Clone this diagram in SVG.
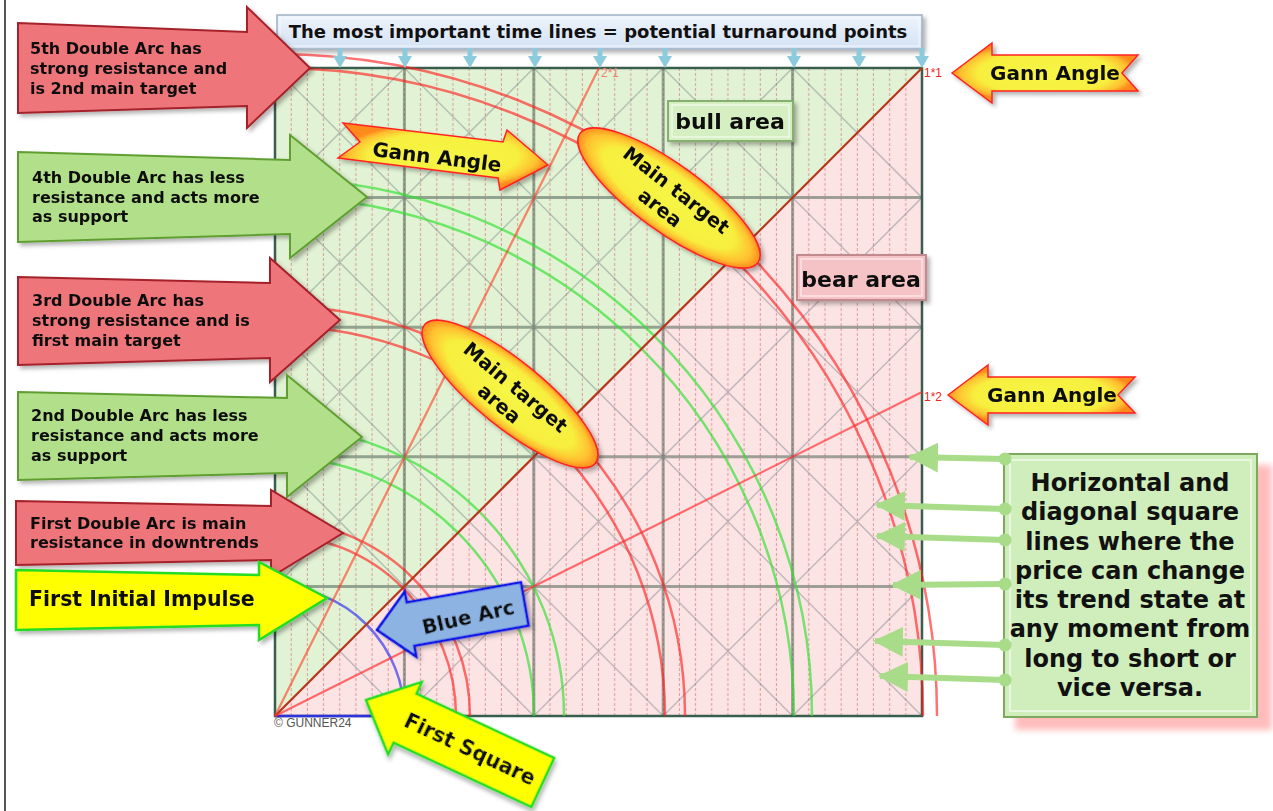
<svg xmlns="http://www.w3.org/2000/svg" width="1273" height="811" viewBox="0 0 1273 811">
<style>
.t{font-family:"DejaVu Sans",Verdana,sans-serif;font-weight:bold;fill:#111}
.small{font-family:"Liberation Sans",Arial,sans-serif}
.grid{stroke:rgba(80,100,85,0.55);stroke-width:3;fill:none}
.diag{stroke:rgba(110,120,130,0.4);stroke-width:1.5;fill:none}
.arcR{stroke:#ff1c1c;stroke-opacity:0.62;stroke-width:2.5;fill:none}
.arcG{stroke:#2ee02e;stroke-opacity:0.65;stroke-width:2.5;fill:none}
.redA{fill:#ee757a;stroke:#a5212a;stroke-width:2}
.grnA{fill:#b2e08a;stroke:#5f9f30;stroke-width:2}
.ylwA{fill:#ffff00;stroke:#22dd22;stroke-width:2.5}
.gann{fill:url(#glow);stroke:#ff2222;stroke-width:1.5}
.mark{fill:#8ccbdc}
.gline{stroke:#a8dc88;stroke-width:6;fill:none;marker-end:url(#gHead);marker-start:url(#gDot)}
</style>
<defs>
<radialGradient id="glow" cx="50%" cy="50%" r="50%">
<stop offset="0" stop-color="#f6f545"/>
<stop offset="0.72" stop-color="#f7ef3e"/>
<stop offset="0.9" stop-color="#ffc030"/>
<stop offset="1" stop-color="#ff8a1e"/>
</radialGradient>
<linearGradient id="titleG" x1="0" y1="0" x2="0" y2="1">
<stop offset="0" stop-color="#eef4fb"/>
<stop offset="1" stop-color="#d3e2f4"/>
</linearGradient>
<pattern id="dashes" patternUnits="userSpaceOnUse" x="267" y="68" width="16.175" height="5">
<rect x="7.5" y="0" width="1" height="3" fill="#d48a8a" fill-opacity="0.8"/>
</pattern>
<filter id="sh" x="-10%" y="-10%" width="130%" height="135%">
<feDropShadow dx="3" dy="3" stdDeviation="2" flood-color="#000" flood-opacity="0.3"/>
</filter>
<filter id="blur" x="-10%" y="-10%" width="120%" height="120%">
<feGaussianBlur stdDeviation="3"/>
</filter>
<marker id="gHead" viewBox="0 0 30 30" refX="28" refY="15" markerWidth="30" markerHeight="30" markerUnits="userSpaceOnUse" orient="auto">
<path d="M0,0 L30,15 L0,30 Z" fill="#a8dc88"/>
</marker>
<marker id="gDot" viewBox="0 0 14 14" refX="7" refY="7" markerWidth="14" markerHeight="14" markerUnits="userSpaceOnUse" orient="auto">
<circle cx="7" cy="7" r="6.5" fill="#a8dc88"/>
</marker>
</defs>

<rect width="1273" height="811" fill="#ffffff"/>
<line x1="5" y1="0" x2="5" y2="811" stroke="#555" stroke-width="2"/>

<g id="chart">
<polygon points="275,68 922,68 275,716" fill="#e2f2d4"/>
<polygon points="922,68 922,716 275,716" fill="#fce3e4"/>
<rect x="275" y="68" width="647" height="648" fill="url(#dashes)"/>
<path class="diag" d="M792.6,716 L922,586.4 M663.2,716 L922,456.8 M533.8,716 L922,327.2 M404.4,716 L922,197.6 M275,586.4 L792.6,68 M275,456.8 L663.2,68 M275,327.2 L533.8,68 M275,197.6 L404.4,68 M275,586.4 L404.4,716 M275,456.8 L533.8,716 M275,327.2 L663.2,716 M275,197.6 L792.6,716 M275,68 L922,716 M404.4,68 L922,586.4 M533.8,68 L922,456.8 M663.2,68 L922,327.2 M792.6,68 L922,197.6"/>
<path class="grid" d="M404.4,68 V716 M533.8,68 V716 M663.2,68 V716 M792.6,68 V716 M275,586.4 H922 M275,456.8 H922 M275,327.2 H922 M275,197.6 H922"/>
<rect x="275" y="68" width="647" height="648" fill="none" stroke="#3a5e4e" stroke-width="2.5"/>
<line x1="275" y1="716" x2="404" y2="716" stroke="#3030e0" stroke-width="2.5"/>
<text class="small" x="274" y="727" font-size="12" fill="#555">© GUNNER24</text>
</g>

<g id="arcs">
<path d="M275,586.6 A129.4,129.4 0 0 1 404.4,716" fill="none" stroke="#3a3af0" stroke-opacity="0.7" stroke-width="2.5"/>
<path class="arcR" d="M275,535 A181,181 0 0 1 456,716"/>
<path class="arcR" d="M275,521 A195,195 0 0 1 470,716"/>
<path class="arcG" d="M275,457 A259,259 0 0 1 534,716"/>
<path class="arcG" d="M275,427 A289,289 0 0 1 564,716"/>
<path class="arcR" d="M275,326 A390,390 0 0 1 665,716"/>
<path class="arcR" d="M275,306 A410,410 0 0 1 685,716"/>
<path class="arcG" d="M275,197 A519,519 0 0 1 794,716"/>
<path class="arcG" d="M275,179 A537,537 0 0 1 812,716"/>
<path class="arcR" d="M275,68 A648,648 0 0 1 923,716"/>
<path class="arcR" d="M275,54 A662,662 0 0 1 937,716" stroke-opacity="0.85"/>
</g>

<g id="gann-lines">
<line x1="275" y1="716" x2="922" y2="68" stroke="#b5361c" stroke-width="2.2"/>
<line x1="275" y1="716" x2="599" y2="68" stroke="#ff3a1f" stroke-opacity="0.6" stroke-width="2.2"/>
<line x1="275" y1="716" x2="922" y2="392" stroke="#ff2a2a" stroke-opacity="0.65" stroke-width="2.2"/>
<text class="small" x="924" y="77" font-size="12" fill="#ee2222">1*1</text>
<text class="small" x="601" y="77" font-size="12" fill="#f08070">2*1</text>
<text class="small" x="924" y="401" font-size="12" fill="#ee2222">1*2</text>
</g>

<g id="title">
<rect x="277" y="15" width="645" height="34" fill="url(#titleG)" stroke="#9fb0c4" stroke-width="1.5" filter="url(#sh)"/>
<rect x="280" y="18" width="639" height="28" fill="none" stroke="#ffffff" stroke-opacity="0.7" stroke-width="1"/>
<text class="t" x="598" y="38" font-size="18" text-anchor="middle" fill="#2a2a2a">The most important time lines = potential turnaround points</text>
<path class="mark" d="M337.5,48 h5 v8 h4.5 l-7,12 l-7,-12 h4.5 z"/>
<path class="mark" d="M402.5,48 h5 v8 h4.5 l-7,12 l-7,-12 h4.5 z"/>
<path class="mark" d="M467.5,48 h5 v8 h4.5 l-7,12 l-7,-12 h4.5 z"/>
<path class="mark" d="M532.5,48 h5 v8 h4.5 l-7,12 l-7,-12 h4.5 z"/>
<path class="mark" d="M597.5,48 h5 v8 h4.5 l-7,12 l-7,-12 h4.5 z"/>
<path class="mark" d="M662.5,48 h5 v8 h4.5 l-7,12 l-7,-12 h4.5 z"/>
<path class="mark" d="M791.5,48 h5 v8 h4.5 l-7,12 l-7,-12 h4.5 z"/>
<path class="mark" d="M856.5,48 h5 v8 h4.5 l-7,12 l-7,-12 h4.5 z"/>
<path class="mark" d="M919.5,48 h5 v8 h4.5 l-7,12 l-7,-12 h4.5 z"/>
</g>

<g id="arc5-label" filter="url(#sh)">
<path class="redA" d="M18,23 L247,32 L247,7 L310,68 L247,128 L247,106 L18,113 Z"/>
<text class="t" font-size="16"><tspan x="30" y="54">5th Double Arc has</tspan><tspan x="30" y="74">strong resistance and</tspan><tspan x="30" y="94">is 2nd main target</tspan></text>
</g>
<g id="arc4-label" filter="url(#sh)">
<path class="grnA" d="M18,152 L290,160 L290,135 L367,197 L290,258 L290,234 L18,242 Z"/>
<text class="t" font-size="16"><tspan x="32" y="183">4th Double Arc has less</tspan><tspan x="32" y="203">resistance and acts more</tspan><tspan x="32" y="222">as support</tspan></text>
</g>
<g id="arc3-label" filter="url(#sh)">
<path class="redA" d="M18,277 L270,283 L270,258 L340,320 L270,382 L270,358 L18,365 Z"/>
<text class="t" font-size="16"><tspan x="32" y="306">3rd Double Arc has</tspan><tspan x="32" y="326">strong resistance and is</tspan><tspan x="32" y="346">first main target</tspan></text>
</g>
<g id="arc2-label" filter="url(#sh)">
<path class="grnA" d="M18,392 L287,398 L287,375 L362,437 L287,497 L287,473 L18,480 Z"/>
<text class="t" font-size="16"><tspan x="31" y="421">2nd Double Arc has less</tspan><tspan x="31" y="441">resistance and acts more</tspan><tspan x="31" y="461">as support</tspan></text>
</g>
<g id="arc1-label" filter="url(#sh)">
<path class="redA" d="M16,501 L271,506 L271,490 L343,533 L271,577 L271,560 L16,565 Z"/>
<text class="t" font-size="16"><tspan x="30" y="529">First Double Arc is main</tspan><tspan x="30" y="548">resistance in downtrends</tspan></text>
</g>
<g id="impulse-label" filter="url(#sh)">
<path class="ylwA" d="M16,570 L259,575 L259,562 L327,598 L259,640 L259,625 L16,630 Z"/>
<text class="t" x="29" y="606" font-size="20.5">First Initial Impulse</text>
</g>

<g id="gann-angle-chart" filter="url(#sh)">
<path class="gann" d="M343,123 L503,142 L507,130 L548,165 L500,190 L498,178 L338,158 L360,142 Z"/>
<text class="t" font-size="20" text-anchor="middle" transform="translate(437,157) rotate(7)" y="7">Gann Angle</text>
</g>
<g id="gann-angle-top" filter="url(#sh)">
<path class="gann" d="M952,73 L992,43 L992,55 L1138,55 L1122,73 L1138,91 L992,91 L992,103 Z"/>
<text class="t" x="1055" y="80" font-size="20" text-anchor="middle">Gann Angle</text>
</g>
<g id="gann-angle-bottom" filter="url(#sh)">
<path class="gann" d="M948,395 L988,365 L988,377 L1135,377 L1118,395 L1135,413 L988,413 L988,425 Z"/>
<text class="t" x="1052" y="402" font-size="20" text-anchor="middle">Gann Angle</text>
</g>

<g id="target-upper" filter="url(#sh)">
<ellipse class="gann" cx="669" cy="198" rx="110" ry="33.5" transform="rotate(36 669 198)"/>
<text class="t" font-size="19.5" text-anchor="middle" transform="translate(669,198) rotate(38)"><tspan x="1" y="-4">Main target</tspan><tspan x="-1" y="20">area</tspan></text>
</g>
<g id="target-lower" filter="url(#sh)">
<ellipse class="gann" cx="510" cy="394" rx="110" ry="33" transform="rotate(39 510 394)"/>
<text class="t" font-size="19.5" text-anchor="middle" transform="translate(510,394) rotate(40)"><tspan x="0" y="-2">Main target</tspan><tspan x="-2" y="21">area</tspan></text>
</g>

<g id="bull-area" filter="url(#sh)">
<rect x="668" y="101" width="125" height="40" fill="#d6efc2" stroke="#86b070" stroke-width="2"/>
<rect x="672" y="105" width="117" height="32" fill="none" stroke="#ffffff" stroke-opacity="0.6" stroke-width="1.5"/>
<text class="t" x="730" y="129" font-size="22" text-anchor="middle" fill="#222">bull area</text>
</g>
<g id="bear-area" filter="url(#sh)">
<rect x="797" y="255" width="129" height="45" fill="#f5c2c6" stroke="#c08a8e" stroke-width="2"/>
<rect x="801" y="259" width="121" height="37" fill="none" stroke="#ffffff" stroke-opacity="0.6" stroke-width="1.5"/>
<text class="t" x="861" y="287" font-size="22" text-anchor="middle" fill="#222">bear area</text>
</g>

<g id="blue-arc-label" filter="url(#sh)" transform="translate(377,630) rotate(-10)">
<path d="M0,0 L34,-33 L34,-22 L150,-22 L150,22 L34,22 L34,33 Z" fill="#8db3e2" stroke="#0a14e6" stroke-width="2.5"/>
<text class="t" font-size="20" text-anchor="middle" transform="translate(92,3) rotate(-3)" y="7">Blue Arc</text>
</g>

<g id="first-square-label" filter="url(#sh)" transform="translate(366,700) rotate(25)">
<path class="ylwA" d="M0,0 L43,-40 L43,-27 L195,-27 L195,27 L43,27 L43,40 Z"/>
<text class="t" x="115" y="8" font-size="20.5" text-anchor="middle">First Square</text>
</g>

<g id="info-box">
<rect x="1015" y="465" width="257" height="265" fill="#ffbcbc" filter="url(#blur)"/>
<rect x="1004" y="454" width="253" height="263" fill="#cfeebb" stroke="#7ea860" stroke-width="2"/>
<rect x="1010" y="460" width="241" height="251" fill="none" stroke="#ffffff" stroke-opacity="0.55" stroke-width="2"/>
<text class="t" font-size="24" text-anchor="middle"><tspan x="1130" y="491">Horizontal and</tspan><tspan x="1130" y="520">diagonal square</tspan><tspan x="1130" y="550">lines where the</tspan><tspan x="1130" y="579">price can change</tspan><tspan x="1130" y="608">its trend state at</tspan><tspan x="1130" y="637">any moment from</tspan><tspan x="1130" y="667">long to short or</tspan><tspan x="1130" y="696">vice versa.</tspan></text>
</g>

<g id="connectors">
<path class="gline" d="M1005,459 L910,457"/>
<path class="gline" d="M1005,509 L877,505"/>
<path class="gline" d="M1005,540 L877,536"/>
<path class="gline" d="M1005,584 L893,585"/>
<path class="gline" d="M1005,645 L875,641"/>
<path class="gline" d="M1005,680 L880,676"/>
</g>
</svg>
